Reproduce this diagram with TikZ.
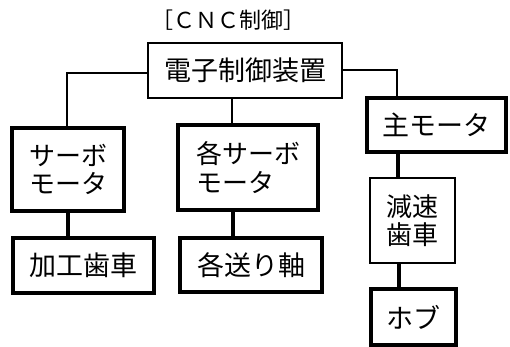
\documentclass[tikz,border=0pt]{standalone}
\usepackage{fontspec}
\newfontfamily\jp{Noto Sans CJK JP}
\begin{document}
\begin{tikzpicture}[x=1pt,y=-1pt,
  thinbox/.style={draw,line width=1.6pt,inner sep=0pt,font=\jp\fontsize{27}{29}\selectfont},
  thickbox/.style={draw,line width=3.6pt,inner sep=0pt,font=\jp\fontsize{27}{29}\selectfont},
  twoline/.style={align=left,font=\jp\fontsize{26}{28.5}\selectfont},
  thinline/.style={line width=1.6pt},
  thickline/.style={line width=3.6pt}]
\useasboundingbox (0,0) rectangle (510,347);
\node[font=\jp\fontsize{22}{24}\selectfont,inner sep=0pt] (title) at (228,20) {［ＣＮＣ制御］};
\node[thinbox,minimum width=194pt,minimum height=55pt] (ctrl) at (245,70.5) {電子制御装置};
\node[thickbox,twoline,minimum width=112pt,minimum height=83pt] (servoA) at (68,169.5) {サーボ\\モータ};
\node[thickbox,twoline,minimum width=140pt,minimum height=85pt] (servoB) at (248,167.5) {各サーボ\\モータ};
\node[thickbox,minimum width=139pt,minimum height=54pt] (main) at (436.5,125) {主モータ};
\node[thinbox,twoline,minimum width=85pt,minimum height=85pt] (gear) at (412.5,220.5) {減速\\歯車};
\node[thickbox,minimum width=85pt,minimum height=56pt] (hob) at (413.5,317) {ホブ};
\node[thickbox,minimum width=141pt,minimum height=55pt] (work) at (83.5,265.5) {加工歯車};
\node[thickbox,minimum width=142pt,minimum height=54pt] (feed) at (251,265) {各送り軸};
% connectors
\draw[thinline] (ctrl.west |- 0,73) -| (67,0 |- servoA.north);
\draw[thinline] (ctrl.east |- 0,70) -| (397,0 |- main.north);
\draw[thinline] (232,0 |- ctrl.south) -- (232,0 |- servoB.north);
\draw[thickline] (68,0 |- servoA.south) -- (68,0 |- work.north);
\draw[thickline] (233,0 |- servoB.south) -- (233,0 |- feed.north);
\draw[thickline] (398,0 |- main.south) -- (398,0 |- gear.north);
\draw[thickline] (399,0 |- gear.south) -- (399,0 |- hob.north);
\end{tikzpicture}
\end{document}
